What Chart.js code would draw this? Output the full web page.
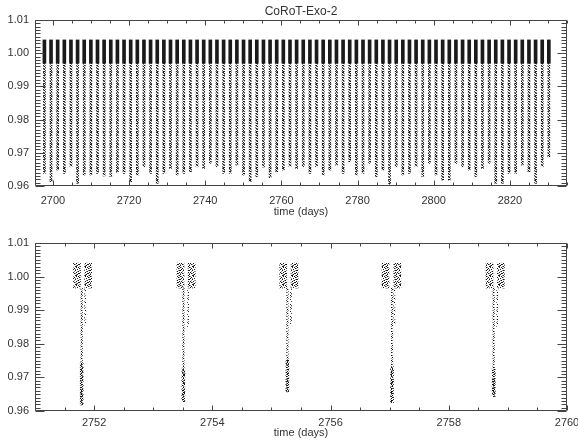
<!DOCTYPE html>
<html><head><meta charset="utf-8">
<script src="https://cdn.jsdelivr.net/npm/chart.js@4.4.0/dist/chart.umd.min.js"></script>
<style>
html,body{margin:0;padding:0;background:#fff;overflow:hidden;}
#wrap{position:relative;width:578px;height:444px;overflow:hidden;}
canvas{position:absolute;left:0;}
</style></head><body>
<div id="wrap">
<canvas id="c1" style="top:0;width:590px;height:222px"></canvas>
<canvas id="c2" style="top:222px;width:590px;height:222px"></canvas>
</div>
<script>
// ---------- data ----------
const chartTitle = "CoRoT-Exo-2";
const xAxisTitle = "time (days)";
const yTicks = [0.96, 0.97, 0.98, 0.99, 1.00, 1.01];
const topXTicks = [2700, 2720, 2740, 2760, 2780, 2800, 2820];
const bottomXTicks = [2752, 2754, 2756, 2758, 2760];

// top panel: one column per transit
const transitTimes = [
 2697.77,2699.51,2701.25,2703.00,2704.74,2706.48,2708.22,2709.97,2711.71,2713.45,
 2715.20,2716.94,2718.68,2720.43,2722.17,2723.91,2725.65,2727.40,2729.14,2730.88,
 2732.63,2734.37,2736.11,2737.86,2739.60,2741.34,2743.08,2744.83,2746.57,2748.31,
 2750.06,2751.80,2753.54,2755.29,2757.03,2758.77,2760.51,2762.26,2764.00,2765.74,
 2767.49,2769.23,2770.97,2772.72,2774.46,2776.20,2777.94,2779.69,2781.43,2783.17,
 2784.92,2786.66,2788.40,2790.15,2791.89,2793.63,2795.37,2797.12,2798.86,2800.60,
 2802.35,2804.09,2805.83,2807.58,2809.32,2811.06,2812.80,2814.55,2816.29,2818.03,
 2819.78,2821.52,2823.26,2825.01,2826.75,2828.49,2830.23];
const transitBottoms = [
 0.9638,0.9613,0.9648,0.9638,0.9658,0.9608,0.9633,0.9633,0.9638,0.9630,
 0.9628,0.9640,0.9638,0.9613,0.9633,0.9658,0.9638,0.9608,0.9638,0.9653,
 0.9633,0.9638,0.9643,0.9658,0.9653,0.9668,0.9658,0.9638,0.9638,0.9663,
 0.9633,0.9613,0.9628,0.9657,0.9625,0.9643,0.9648,0.9658,0.9653,0.9658,
 0.9638,0.9658,0.9633,0.9648,0.9663,0.9638,0.9673,0.9633,0.9638,0.9668,
 0.9628,0.9648,0.9603,0.9658,0.9633,0.9638,0.9658,0.9628,0.9668,0.9633,
 0.9618,0.9618,0.9668,0.9658,0.9648,0.9628,0.9653,0.9668,0.9608,0.9608,
 0.9638,0.9638,0.9663,0.9643,0.9608,0.9658,0.9688];
const bandTop = 1.0040;
const bandBottom = 0.9970;

// bottom panel: five transits
const preClumpTimes  = [2751.71, 2753.46, 2755.20, 2756.93, 2758.69];
const postClumpTimes = [2751.90, 2753.65, 2755.39, 2757.13, 2758.88];
const dipTimes       = [2751.79, 2753.51, 2755.27, 2757.04, 2758.76];
const egressTimes    = [2751.85, 2753.59, 2755.33, 2757.08, 2758.82];
const dipBottoms     = [0.9618, 0.9628, 0.9657, 0.9625, 0.9643];
const dipDenseTops   = [0.9743, 0.9725, 0.9752, 0.9732, 0.9730];
const egressBottoms  = [0.9855, 0.9850, 0.9860, 0.9860, 0.9850];
const clumpTop = 1.0040;
const clumpBottom = 0.9966;

// ---------- rendering ----------
const FONT = "'Liberation Sans', Arial, sans-serif";
const TXT = '#333';

const frameTicks = {
  id: 'frameTicks',
  afterDatasetsDraw(chart, args, o) {
    const {ctx, chartArea: a, scales: {x, y}} = chart;
    ctx.save();
    ctx.strokeStyle = '#444'; ctx.lineWidth = 1;
    const L = Math.round(a.left) + 0.5, R = Math.round(a.right) - 0.5;
    const T = Math.round(a.top) + 0.5, B = Math.round(a.bottom) - 0.5;
    ctx.beginPath();
    ctx.rect(L, T, R - L, B - T);
    const nx0 = Math.ceil(x.min / o.xMinor - 1e-6), nx1 = Math.floor(x.max / o.xMinor + 1e-6);
    for (let n = nx0; n <= nx1; n++) {
      const v = n * o.xMinor;
      const px = Math.round(x.getPixelForValue(v)) + 0.5;
      const r = v / o.xMajor, major = Math.abs(r - Math.round(r)) < 1e-6;
      const len = major ? o.xMajorLen : o.xMinorLen;
      ctx.moveTo(px, B); ctx.lineTo(px, B - len);
      ctx.moveTo(px, T); ctx.lineTo(px, T + len);
    }
    const ny0 = Math.ceil(y.min / o.yMinor - 1e-6), ny1 = Math.floor(y.max / o.yMinor + 1e-6);
    for (let n = ny0; n <= ny1; n++) {
      const v = n * o.yMinor;
      const py = Math.round(y.getPixelForValue(v)) + 0.5;
      const r = v / o.yMajor, major = Math.abs(r - Math.round(r)) < 1e-6;
      const len = major ? o.yMajorLen : o.yMinorLen;
      ctx.moveTo(L, py); ctx.lineTo(L + len, py);
      ctx.moveTo(R, py); ctx.lineTo(R - len, py);
    }
    ctx.stroke();
    ctx.restore();
  }
};

function bars(times, lo, hi, color, w) {
  return {
    data: times.map((t, i) => ({x: t, y: [Array.isArray(lo) ? lo[i] : lo, Array.isArray(hi) ? hi[i] : hi]})),
    backgroundColor: color, barThickness: w, grouped: false, borderWidth: 0
  };
}

// hand-placed dot textures (styling only)
function texture(canvas, w, h, black, grey) {
  const c = document.createElement('canvas'); c.width = w; c.height = h;
  const g = c.getContext('2d');
  g.fillStyle = 'rgba(0,0,0,0.9)';
  black.forEach(p => g.fillRect(p[0], p[1], 1, 1));
  g.fillStyle = 'rgba(0,0,0,0.45)';
  grey.forEach(p => g.fillRect(p[0], p[1], 1, 1));
  return canvas.getContext('2d').createPattern(c, 'repeat');
}
const SPECK_B = [[0,0],[4,0],[7,1],[2,1],[5,2],[0,3],[8,3],[3,3],[6,4],[1,5],[4,5],[7,6],[2,6],[0,7],[5,7],[8,8],[3,8],[6,0],[1,2],[6,6],[4,8],[8,5]];
const SPECK_G = [[1,0],[3,2],[7,3],[2,4],[5,4],[0,6],[4,7],[7,8],[8,1],[3,6]];
const DOTLINE_B = [[0,0],[1,1],[2,3],[0,4],[1,6],[2,7],[0,9],[1,10]];
const DOTLINE_G = [[2,1],[0,2],[1,4],[2,5],[0,7],[1,8],[2,10],[0,11]];
const COLUMN_B = [[0,0],[1,0],[2,1],[0,2],[1,3],[2,3],[0,5],[1,5],[2,6],[0,7],[1,8],[2,9],[0,10],[1,11],[2,11]];
const COLUMN_G = [[1,1],[2,2],[0,3],[2,4],[1,6],[0,8],[2,8],[1,9],[0,11]];

function baseOptions(xMin, xMax, xTicks, tickPad, xH, pad, frameOpts, title) {
  return {
    responsive: false, animation: false, events: [],
    layout: {padding: pad},
    plugins: {
      legend: {display: false}, tooltip: {enabled: false},
      title: title ? {display: true, text: title, fullSize: false, color: TXT,
                      font: {family: FONT, size: 12, weight: 'normal'}, padding: {top: 4, bottom: 1.6}} : {display: false},
      frameTicks: frameOpts
    },
    scales: {
      x: {
        type: 'linear', min: xMin, max: xMax, offset: false,
        grid: {display: false, drawTicks: false}, border: {display: false},
        ticks: {font: {family: FONT, size: 11}, color: TXT, padding: tickPad, maxRotation: 0, autoSkip: false,
                callback: v => String(v)},
        afterBuildTicks: s => { s.ticks = xTicks.map(v => ({value: v})); },
        afterFit: s => { s.height = xH; },
        title: {display: true, text: xAxisTitle, color: TXT, font: {family: FONT, size: 11}, padding: 0}
      },
      y: {
        type: 'linear', min: 0.96, max: 1.01,
        grid: {display: false, drawTicks: false}, border: {display: false},
        ticks: {font: {family: FONT, size: 11}, color: TXT, padding: 6, callback: v => v.toFixed(2)},
        afterBuildTicks: s => { s.ticks = yTicks.map(v => ({value: v})); },
        afterFit: s => { s.width = 35; }
      }
    }
  };
}

const c1 = document.getElementById('c1'); c1.width = 590; c1.height = 222;
const c2 = document.getElementById('c2'); c2.width = 590; c2.height = 222;

new Chart(c1, {
  type: 'bar',
  data: {datasets: [
    bars(transitTimes, bandBottom, bandTop, '#1a1a1a', 3),
    bars(transitTimes, transitBottoms, bandBottom, texture(c1, 3, 12, COLUMN_B, COLUMN_G), 2)
  ]},
  options: baseOptions(2695.3, 2835, topXTicks, 8, 32.6, {left: 0, right: 23, top: 0, bottom: 3.4},
    {xMinor: 5, xMajor: 20, xMajorLen: 5, xMinorLen: 3, yMinor: 0.001, yMajor: 0.01, yMajorLen: 9, yMinorLen: 5},
    chartTitle),
  plugins: [frameTicks]
});

new Chart(c2, {
  type: 'bar',
  data: {datasets: [
    bars(preClumpTimes, clumpBottom, clumpTop, texture(c2, 9, 9, SPECK_B, SPECK_G), 7),
    bars(postClumpTimes, clumpBottom, clumpTop, texture(c2, 9, 9, SPECK_B, SPECK_G), 7),
    bars(dipTimes, dipBottoms, dipDenseTops, texture(c2, 9, 9, SPECK_B, SPECK_G), 3),
    bars(dipTimes, dipBottoms, clumpBottom, texture(c2, 3, 12, DOTLINE_B, DOTLINE_G), 1.5),
    bars(egressTimes, egressBottoms, clumpBottom, texture(c2, 3, 12, DOTLINE_G, DOTLINE_B.slice(0, 3)), 1)
  ]},
  options: baseOptions(2751.0, 2760, bottomXTicks, 5, 28.6, {left: 0, right: 23, top: 21, bottom: 4.4},
    {xMinor: 0.5, xMajor: 2, xMajorLen: 5, xMinorLen: 3, yMinor: 0.001, yMajor: 0.01, yMajorLen: 9, yMinorLen: 5},
    null),
  plugins: [frameTicks]
});
</script>
</body></html>
